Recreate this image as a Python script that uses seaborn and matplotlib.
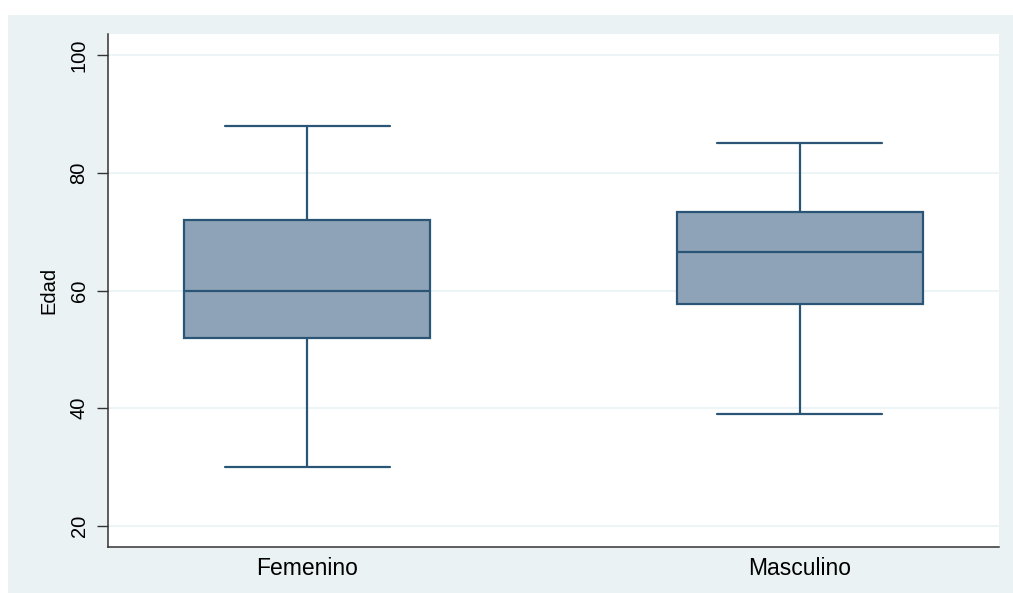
import matplotlib
matplotlib.use("Agg")
import matplotlib.pyplot as plt
from matplotlib.patches import Rectangle
import seaborn as sns
import pandas as pd

# Five-number summaries (min, Q1, median, Q3, max)
categories = ["Femenino", "Masculino"]
femenino = [30, 52, 60, 72, 88]
masculino = [39, 57.7, 66.5, 73.4, 85]
y_ticks = [20, 40, 60, 80, 100]
y_label = "Edad"

df = pd.DataFrame({
    "Sexo": [categories[0]] * len(femenino) + [categories[1]] * len(masculino),
    "Edad": femenino + masculino,
})

sns.set_theme(style="white")
plt.rcParams["font.family"] = ["Liberation Sans", "DejaVu Sans"]
plt.rcParams["text.color"] = "black"
plt.rcParams["axes.labelcolor"] = "black"
plt.rcParams["xtick.color"] = "black"
plt.rcParams["ytick.color"] = "black"

W, H = 1013, 593
fig = plt.figure(figsize=(W / 100, H / 100), dpi=100, facecolor="white")
bg = "#eaf2f3"
fig.patches.append(Rectangle((8 / W, 0), 1 - 8 / W, 1 - 15 / H,
                             transform=fig.transFigure, facecolor=bg,
                             edgecolor="none", zorder=-10))

ax = fig.add_axes([108 / W, 1 - 547 / H, (999 - 108) / W, (547 - 34) / H])
ax.set_facecolor("white")

edge = "#2b5576"
fill = "#8ea3b7"
sns.boxplot(data=df, x="Sexo", y="Edad", order=categories, ax=ax,
            width=0.5, saturation=1, linecolor=edge, linewidth=1.6,
            boxprops=dict(facecolor=fill, edgecolor=edge),
            capwidths=0.335, whis=1.5, showfliers=False)

ax.set_xlim(-0.404, 1.404)
ax.set_ylim(16.4, 103.6)
ax.set_yticks(y_ticks)
ax.set_yticklabels([str(v) for v in y_ticks], rotation=90, va="center",
                   fontsize=14.5)
ax.yaxis.grid(True, color=bg, linewidth=1.2)
ax.set_axisbelow(True)
ax.tick_params(axis="y", length=8, width=1, color="#333333", pad=6, left=True,
               labelcolor="black")
ax.tick_params(axis="x", length=0, pad=7, labelsize=16.5, labelcolor="black")
ax.set_xlabel("")
ax.set_ylabel(y_label, fontsize=14.5, labelpad=8, color="black")

for s in ["top", "right"]:
    ax.spines[s].set_visible(False)
for s in ["left", "bottom"]:
    ax.spines[s].set_color("#333333")
    ax.spines[s].set_linewidth(1.1)

fig.savefig("out.png", dpi=100, facecolor="white")
